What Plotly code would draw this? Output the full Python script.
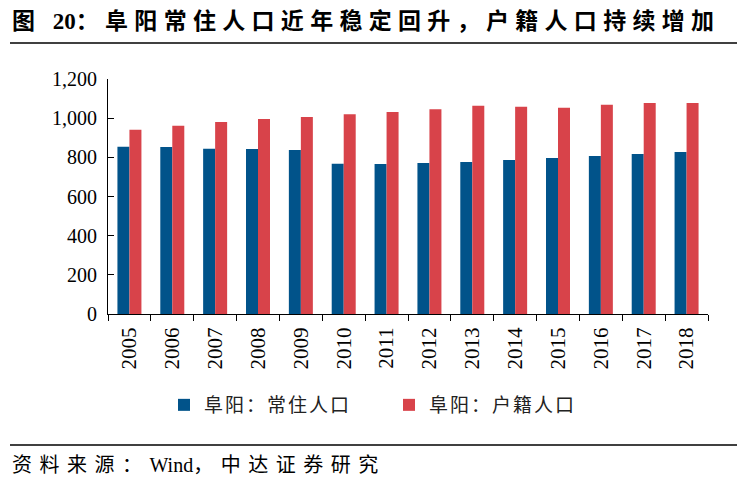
import plotly.graph_objects as go

years = ["2005", "2006", "2007", "2008", "2009", "2010", "2011",
         "2012", "2013", "2014", "2015", "2016", "2017", "2018"]
resident = [854, 853, 844, 843, 837, 767, 766, 771, 776, 786, 797, 807, 817, 827]
registered = [941, 961, 981, 996, 1006, 1020, 1032, 1046, 1063, 1058, 1053, 1068, 1078, 1078]

name_res = "阜阳：常住人口"
name_reg = "阜阳：户籍人口"
title_a = "图 "
title_b = "20"
title_c = "：阜阳常住人口近年稳定回升，户籍人口持续增加"
source_a = "资料来源："
source_b = "Wind"
source_c = "，中达证券研究"

BLUE = "#01538A"
RED = "#D8434A"
SERIF = "Liberation Serif, Noto Sans CJK SC"


def spaced(s, px_):
    return '<span style="letter-spacing:%gpx">%s</span>' % (px_, s)


fig = go.Figure()
fig.add_bar(x=years, y=resident, name=spaced(name_res, 2), marker_color=BLUE, marker_line_width=0)
fig.add_bar(x=years, y=registered, name=spaced(name_reg, 2), marker_color=RED, marker_line_width=0)

# page has an 8px body margin; work in page pixels and convert
OFF = 8
W, H = 747 - OFF, 489 - OFF
PL, PR, PT, PB = 108, 708, 79, 314  # plot area in page pixels
L, T = PL - OFF, PT - OFF
pw, ph = PR - PL, PB - PT
R, B = W - L - pw, H - T - ph


def px(x):
    return (x - PL) / pw


def py(y):
    return (PB - y) / ph


fig.update_layout(
    width=W, height=H,
    margin=dict(l=L, r=R, t=T, b=B, autoexpand=False),
    paper_bgcolor="white", plot_bgcolor="white",
    barmode="group", bargap=0.44, bargroupgap=0,
    font=dict(family=SERIF, color="black", size=18),
    showlegend=True,
    legend=dict(orientation="h", x=px(164), xanchor="left", y=py(405), yanchor="middle",
                font=dict(size=19, family="Noto Sans CJK SC", color="#222"),
                itemwidth=30, traceorder="normal", entrywidth=180),
    xaxis=dict(type="category", tickangle=-90, showline=True, linecolor="black", linewidth=1,
               ticks="outside", ticklen=6, tickcolor="black", tickson="boundaries",
               tickfont=dict(size=21, family=SERIF), showgrid=False, ticklabelstandoff=4),
    yaxis=dict(range=[0, 1200], dtick=200, tickformat=",", showline=True, linecolor="black",
               linewidth=1, ticks="inside", ticklen=6, tickcolor="black", showgrid=False,
               zeroline=False, tickfont=dict(size=20, family=SERIF), ticklabelstandoff=6),
    shapes=[
        dict(type="line", xref="paper", yref="paper", x0=px(10), x1=px(737), y0=py(43), y1=py(43),
             line=dict(color="black", width=1.5)),
        dict(type="line", xref="paper", yref="paper", x0=px(10), x1=px(737), y0=py(445), y1=py(445),
             line=dict(color="black", width=1.5)),
    ],
    annotations=[
        dict(text="<b>" + spaced(title_a, 6) + title_b + spaced(title_c, 6.3) + "</b>",
             xref="paper", yref="paper",
             x=px(10), y=py(22), xanchor="left", yanchor="middle", showarrow=False,
             font=dict(size=23, family="Liberation Serif, Noto Sans CJK SC", color="black")),
        dict(text=spaced(source_a, 7.5) + source_b + spaced(source_c, 7.5), xref="paper", yref="paper",
             x=px(10), y=py(465), xanchor="left", yanchor="middle", showarrow=False,
             font=dict(size=20, family="Liberation Serif, Noto Sans CJK SC", color="black")),
    ],
)

fig.write_html("out.html")
